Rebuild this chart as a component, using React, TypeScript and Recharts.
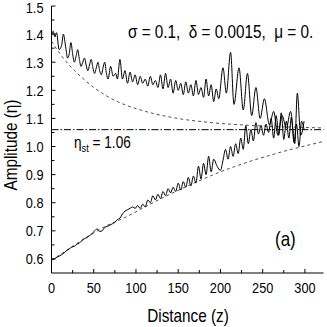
import { LineChart, Line, XAxis, YAxis, ReferenceLine } from 'recharts';

const FONT = '"Liberation Sans", Arial, sans-serif';
const SQUEEZE = 0.85; // the original typeface is a narrow Helvetica

// axis ticks (minor ticks every 25 / 0.05, labels only on the majors)
const X_TICKS = [0, 25, 50, 75, 100, 125, 150, 175, 200, 225, 250, 275, 300];
const Y_TICKS = [
  0.6, 0.65, 0.7, 0.75, 0.8, 0.85, 0.9, 0.95, 1.0, 1.05, 1.1, 1.15, 1.2, 1.25, 1.3,
  1.35, 1.4, 1.45, 1.5,
];

const ETA_ST = 1.06;

// upper noisy curve (decaying amplitude)
const UPPER_Z = [
  0, 2, 4, 6, 9, 12, 14, 17, 19, 21, 23, 25, 27, 29, 31, 33, 35, 37, 39, 41, 43, 45, 47, 49,
  51, 53, 55, 57, 59, 61, 63, 65, 67, 70, 73, 76, 78, 81, 84, 87, 90, 93, 96, 99, 102, 105,
  108, 111, 114, 117, 120, 123, 126, 129, 132, 135, 138, 141, 144, 147, 150, 153, 156, 159,
  162, 165, 168, 171, 174, 177, 180, 183, 186, 189, 192, 195, 198, 203, 207, 212, 216, 222,
  227, 232, 237, 242, 247, 252, 258, 263, 268, 273, 278, 283, 288, 291, 295, 299,
];
const UPPER_ETA = [
  1.395, 1.41, 1.39, 1.405, 1.345, 1.36, 1.4, 1.35, 1.315, 1.33, 1.37, 1.33, 1.3, 1.32,
  1.345, 1.31, 1.285, 1.3, 1.315, 1.29, 1.27, 1.29, 1.31, 1.28, 1.26, 1.28, 1.3, 1.27, 1.255,
  1.28, 1.3, 1.26, 1.24, 1.285, 1.25, 1.26, 1.24, 1.31, 1.24, 1.27, 1.225, 1.265, 1.23, 1.255,
  1.22, 1.25, 1.225, 1.24, 1.215, 1.25, 1.22, 1.235, 1.21, 1.255, 1.205, 1.26, 1.21, 1.24,
  1.19, 1.235, 1.2, 1.225, 1.185, 1.23, 1.19, 1.22, 1.18, 1.235, 1.185, 1.21, 1.175, 1.24,
  1.18, 1.22, 1.16, 1.205, 1.17, 1.28, 1.19, 1.335, 1.15, 1.28, 1.13, 1.26, 1.11, 1.21, 1.1,
  1.17, 1.077, 1.125, 1.04, 1.11, 1.065, 1.125, 1.01, 1.19, 1.04, 1.09,
];

// lower noisy curve (growing amplitude)
const LOWER_Z = [
  0, 3, 6, 9, 12, 15, 18, 21, 24, 27, 30, 33, 36, 39, 42, 45, 48, 51, 54, 57, 60, 63, 66, 69,
  72, 75, 78, 81, 84, 87, 90, 93, 96, 99, 102, 105, 108, 111, 114, 117, 120, 123, 126, 129,
  132, 135, 138, 141, 144, 147, 150, 153, 156, 159, 162, 165, 168, 171, 174, 177, 180, 183,
  186, 189, 192, 196, 200, 203, 206, 209, 212, 215, 218, 221, 224, 227, 230, 233, 236, 239,
  242, 245, 248, 251, 254, 257, 260, 263, 266, 269, 272, 275, 278, 281, 284, 287, 290, 293,
  296, 299,
];
const LOWER_ETA = [
  0.597, 0.6, 0.605, 0.61, 0.615, 0.622, 0.63, 0.636, 0.642, 0.645, 0.652, 0.657, 0.665,
  0.672, 0.676, 0.683, 0.69, 0.7, 0.707, 0.698, 0.7, 0.712, 0.716, 0.72, 0.725, 0.73, 0.74,
  0.745, 0.76, 0.77, 0.775, 0.78, 0.785, 0.78, 0.79, 0.78, 0.795, 0.785, 0.81, 0.8, 0.825,
  0.81, 0.83, 0.815, 0.84, 0.825, 0.85, 0.835, 0.855, 0.84, 0.87, 0.845, 0.875, 0.855, 0.89,
  0.86, 0.895, 0.87, 0.93, 0.885, 0.94, 0.9, 0.965, 0.91, 0.955, 0.93, 0.915, 0.95, 0.99,
  0.955, 1.0, 0.965, 1.01, 0.975, 1.03, 0.99, 1.075, 1.01, 1.06, 1.02, 1.085, 1.045, 1.075,
  1.04, 1.08, 1.05, 1.1, 1.03, 1.11, 1.04, 1.12, 1.025, 1.09, 1.03, 1.105, 1.015, 1.08, 1.0,
  1.09, 1.06,
];

// smooth reference curves (dashed)
const UPPER_DASH_Z = [0, 10, 20, 30, 40, 50, 60, 70, 80, 90, 100, 120, 140, 160, 180, 200, 225, 250, 275, 300, 322];
const UPPER_DASH_ETA = [
  1.375, 1.33, 1.293, 1.262, 1.235, 1.21, 1.19, 1.172, 1.157, 1.145, 1.135, 1.118, 1.105,
  1.095, 1.088, 1.082, 1.077, 1.073, 1.07, 1.068, 1.066,
];
const LOWER_DASH_Z = [0, 10, 20, 30, 40, 50, 60, 70, 80, 90, 100, 120, 140, 160, 180, 200, 220, 240, 260, 280, 300, 322];
const LOWER_DASH_ETA = [
  0.595, 0.615, 0.635, 0.655, 0.675, 0.692, 0.71, 0.725, 0.738, 0.752, 0.768, 0.8, 0.83,
  0.858, 0.885, 0.91, 0.932, 0.952, 0.97, 0.987, 1.002, 1.018,
];

const toPoints = (zs: number[], etas: number[]) => zs.map((z, i) => ({ z, eta: etas[i] }));

const upper = toPoints(UPPER_Z, UPPER_ETA);
const lower = toPoints(LOWER_Z, LOWER_ETA);
const upperDash = toPoints(UPPER_DASH_Z, UPPER_DASH_ETA);
const lowerDash = toPoints(LOWER_DASH_Z, LOWER_DASH_ETA);

const isMajorY = (v: number) => Math.round(v * 100) % 10 === 0;

// text squeezed horizontally to imitate the condensed face of the original
function NText({ x, y, size, anchor = 'start', rotate = false, children }: any) {
  return (
    <text
      transform={`translate(${x} ${y})${rotate ? ' rotate(-90)' : ''} scale(${SQUEEZE} 1)`}
      fontSize={size}
      fontFamily={FONT}
      textAnchor={anchor}
      fill="#000"
      style={{ whiteSpace: 'pre' }}
    >
      {children}
    </text>
  );
}

function BottomTick({ x, y, payload }: any) {
  const v = payload.value;
  const major = v % 50 === 0;
  return (
    <g>
      <line x1={x} x2={x} y1={y} y2={y - (major ? 4 : 3)} stroke="#000" />
      {major && (
        <NText x={x} y={y + 20} size={15} anchor="middle">
          {v}
        </NText>
      )}
    </g>
  );
}

function TopTick({ x, y, payload }: any) {
  const major = payload.value % 50 === 0;
  return <line x1={x} x2={x} y1={y} y2={y + (major ? 4 : 3)} stroke="#000" />;
}

function LeftTick({ x, y, payload }: any) {
  const v = payload.value;
  const major = isMajorY(v);
  // the top label would touch the page edge, nudge it down a little
  const dy = v >= 1.5 ? 7 : 5.5;
  return (
    <g>
      <line x1={x} x2={x + (major ? 4 : 3)} y1={y} y2={y} stroke="#000" />
      {major && (
        <NText x={x - 8} y={y + dy} size={15} anchor="end">
          {v.toFixed(1)}
        </NText>
      )}
    </g>
  );
}

function RightTick({ x, y, payload }: any) {
  const major = isMajorY(payload.value);
  return <line x1={x} x2={x - (major ? 4 : 3)} y1={y} y2={y} stroke="#000" />;
}

export default function App() {
  return (
    <div style={{ position: 'absolute', left: 0, top: 0, width: 327, height: 327, background: '#fff' }}>
      <LineChart width={327} height={327} margin={{ top: 6, right: 3.5, bottom: 24, left: 0 }}>
        <XAxis
          xAxisId="b"
          dataKey="z"
          type="number"
          domain={[0, 322]}
          allowDataOverflow
          ticks={X_TICKS}
          interval={0}
          height={30}
          tickSize={0}
          tickMargin={0}
          axisLine={{ stroke: '#000' }}
          tick={BottomTick}
        />
        <XAxis
          xAxisId="t"
          orientation="top"
          dataKey="z"
          type="number"
          domain={[0, 322]}
          allowDataOverflow
          ticks={X_TICKS}
          interval={0}
          height={0}
          tickSize={0}
          tickMargin={0}
          axisLine={{ stroke: '#000' }}
          tick={TopTick}
        />
        <YAxis
          yAxisId="l"
          type="number"
          domain={[0.55, 1.5]}
          allowDataOverflow
          ticks={Y_TICKS}
          interval={0}
          width={51.5}
          tickSize={0}
          tickMargin={0}
          axisLine={{ stroke: '#000' }}
          tick={LeftTick}
        />
        <YAxis
          yAxisId="r"
          orientation="right"
          type="number"
          domain={[0.55, 1.5]}
          allowDataOverflow
          ticks={Y_TICKS}
          interval={0}
          width={0}
          tickSize={0}
          tickMargin={0}
          axisLine={{ stroke: '#000' }}
          tick={RightTick}
        />
        <ReferenceLine
          xAxisId="b"
          yAxisId="l"
          y={ETA_ST}
          stroke="#000"
          strokeWidth={1}
          strokeDasharray="7 2 1.5 2"
        />
        <Line
          xAxisId="b"
          yAxisId="l"
          data={upperDash}
          dataKey="eta"
          type="monotone"
          stroke="#222"
          strokeWidth={0.8}
          strokeDasharray="3 3"
          dot={false}
          isAnimationActive={false}
        />
        <Line
          xAxisId="b"
          yAxisId="l"
          data={lowerDash}
          dataKey="eta"
          type="monotone"
          stroke="#222"
          strokeWidth={0.8}
          strokeDasharray="3 3"
          dot={false}
          isAnimationActive={false}
        />
        <Line
          xAxisId="b"
          yAxisId="l"
          data={upper}
          dataKey="eta"
          type="monotone"
          stroke="#000"
          strokeWidth={1}
          dot={false}
          isAnimationActive={false}
        />
        <Line
          xAxisId="b"
          yAxisId="l"
          data={lower}
          dataKey="eta"
          type="monotone"
          stroke="#000"
          strokeWidth={1}
          dot={false}
          isAnimationActive={false}
        />
      </LineChart>
      <svg
        width={327}
        height={327}
        style={{ position: 'absolute', left: 0, top: 0, pointerEvents: 'none' }}
      >
        <NText x={128} y={38} size={18}>
          σ = 0.1,  δ = 0.0015,  μ = 0.
        </NText>
        <NText x={74} y={148} size={16}>
          η<tspan fontSize={11} dy={4}>st</tspan>
          <tspan dy={-4}> = 1.06</tspan>
        </NText>
        <NText x={275} y={246} size={20}>
          (a)
        </NText>
        <NText x={188} y={322} size={18} anchor="middle">
          Distance (z)
        </NText>
        <NText x={17} y={145} size={18} anchor="middle" rotate>
          Amplitude (η)
        </NText>
      </svg>
    </div>
  );
}
